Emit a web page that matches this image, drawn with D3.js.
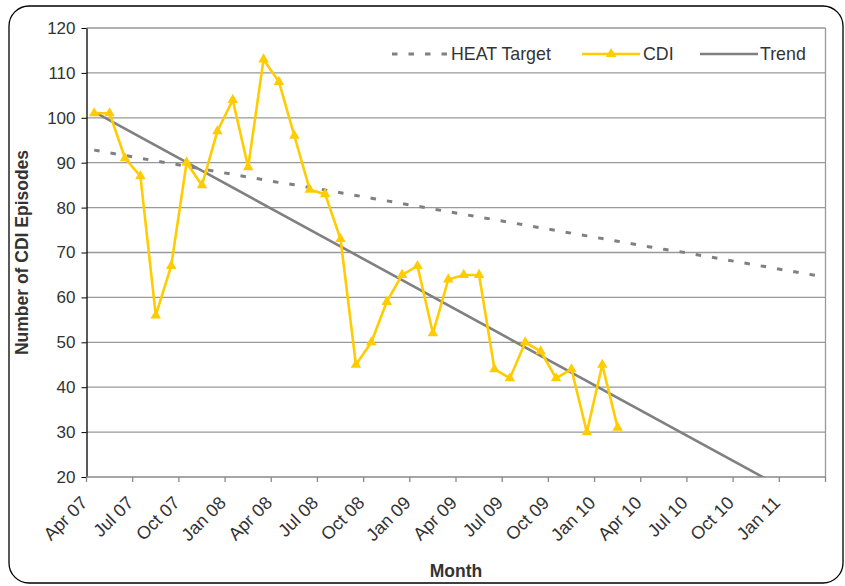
<!DOCTYPE html>
<html>
<head>
<meta charset="utf-8">
<script src="https://cdn.jsdelivr.net/npm/d3@7"></script>
<style>
  html, body { margin: 0; padding: 0; background: #fff; }
  svg { display: block; font-family: "Liberation Sans", Arial, sans-serif; }
</style>
</head>
<body>
<svg id="chart" width="845" height="586"></svg>
<script>
// ---- data ----
const months = [
  "Apr 07","May 07","Jun 07","Jul 07","Aug 07","Sep 07","Oct 07","Nov 07","Dec 07",
  "Jan 08","Feb 08","Mar 08","Apr 08","May 08","Jun 08","Jul 08","Aug 08","Sep 08","Oct 08","Nov 08","Dec 08",
  "Jan 09","Feb 09","Mar 09","Apr 09","May 09","Jun 09","Jul 09","Aug 09","Sep 09","Oct 09","Nov 09","Dec 09",
  "Jan 10","Feb 10","Mar 10","Apr 10","May 10","Jun 10","Jul 10","Aug 10","Sep 10","Oct 10","Nov 10","Dec 10",
  "Jan 11","Feb 11","Mar 11"
];
const tickLabels = ["Apr 07","Jul 07","Oct 07","Jan 08","Apr 08","Jul 08","Oct 08","Jan 09",
  "Apr 09","Jul 09","Oct 09","Jan 10","Apr 10","Jul 10","Oct 10","Jan 11"];
const cdi = [101,101,91,87,56,67,90,85,97,104,89,113,108,96,84,83,73,45,50,59,65,
  67,52,64,65,65,44,42,50,48,42,44,30,45,31];
const heatTarget = [92.8,92.2,91.6,91.0,90.4,89.8,89.2,88.6,88.0,87.4,86.8,86.2,85.6,85.1,84.5,83.9,
  83.3,82.7,82.1,81.5,80.9,80.3,79.7,79.1,78.5,77.9,77.3,76.7,76.1,75.5,74.9,74.3,73.7,73.1,72.5,71.9,
  71.3,70.7,70.2,69.6,69.0,68.4,67.8,67.2,66.6,66.0,65.4,64.8];
const trendMonths = ["Apr 07","Mar 11"];
const trendValues = [101.3, 13.3];
const yTicks = [20,30,40,50,60,70,80,90,100,110,120];
const legendItems = ["HEAT Target","CDI","Trend"];

// ---- layout ----
const svg = d3.select("#chart");
const L = 86.5, R = 825.5, T = 28, B = 477;
const x = d3.scaleBand().domain(months).range([L, R]).paddingInner(0).paddingOuter(0);
const cx = m => x(m) + x.bandwidth() / 2;
const y = d3.scaleLinear().domain([20, 120]).range([B, T]);

const gold = "#FFCC00", gray = "#808080", textCol = "#333333";

// outer rounded border
svg.append("rect").attr("x", 9).attr("y", 6).attr("width", 834).attr("height", 577)
  .attr("rx", 20).attr("ry", 20).attr("fill", "#fff").attr("stroke", "#000").attr("stroke-width", 1.3);

svg.append("clipPath").attr("id", "plotclip").append("rect")
  .attr("x", L).attr("y", T).attr("width", R - L).attr("height", B - T);

// gridlines
svg.append("g").selectAll("line").data(yTicks.filter(d => d > 20)).join("line")
  .attr("x1", L).attr("x2", R).attr("y1", d => y(d)).attr("y2", d => y(d))
  .attr("stroke", "#999").attr("stroke-width", 1.3);
// right plot border
svg.append("line").attr("x1", R).attr("x2", R).attr("y1", T).attr("y2", B)
  .attr("stroke", "#999").attr("stroke-width", 1.3);

// y axis
const yAxis = d3.axisLeft(y).tickValues(yTicks).tickSize(5).tickPadding(6).tickSizeOuter(0);
const gy = svg.append("g").attr("transform", `translate(${L},0)`).call(yAxis);
gy.select(".domain").attr("stroke", "#000").attr("stroke-width", 1.3);
gy.selectAll(".tick line").attr("stroke", "#000").attr("x2", -5).attr("x1", 0);
gy.selectAll(".tick text").attr("fill", textCol).attr("font-size", 17)
  .attr("font-family", "Liberation Sans, Arial, sans-serif");

// x axis (ticks at category boundaries every 3 months)
const xAxisG = svg.append("g");
xAxisG.append("line").attr("x1", L).attr("x2", R).attr("y1", B).attr("y2", B)
  .attr("stroke", "#888").attr("stroke-width", 1.5);
const tickPos = tickLabels.map(m => x(m)).concat([R]);
xAxisG.selectAll("line.tk").data(tickPos).join("line").attr("class", "tk")
  .attr("x1", d => d).attr("x2", d => d).attr("y1", B).attr("y2", B + 5)
  .attr("stroke", "#888").attr("stroke-width", 1.3);
xAxisG.selectAll("text").data(tickLabels).join("text")
  .attr("transform", d => `translate(${x(d) + 2},${B + 27}) rotate(-45)`)
  .attr("text-anchor", "end").attr("fill", textCol).attr("font-size", 18)
  .text(d => d);

// axis titles
svg.append("text").attr("transform", `translate(28,${(T + B) / 2}) rotate(-90)`)
  .attr("text-anchor", "middle").attr("font-weight", "bold").attr("font-size", 17.5)
  .attr("fill", textCol).text("Number of CDI Episodes");
svg.append("text").attr("x", 456).attr("y", 577).attr("text-anchor", "middle")
  .attr("font-weight", "bold").attr("font-size", 17.5).attr("fill", textCol).text("Month");

const plot = svg.append("g").attr("clip-path", "url(#plotclip)");

// HEAT target
plot.append("path").datum(heatTarget)
  .attr("d", d3.line().x((d, i) => cx(months[i])).y(d => y(d)))
  .attr("fill", "none").attr("stroke", gray).attr("stroke-width", 3)
  .attr("stroke-dasharray", "5.5,11");

// trend
plot.append("path").datum(trendValues)
  .attr("d", d3.line().x((d, i) => cx(trendMonths[i])).y(d => y(d)))
  .attr("fill", "none").attr("stroke", gray).attr("stroke-width", 2.6);

// CDI
plot.append("path").datum(cdi)
  .attr("d", d3.line().x((d, i) => cx(months[i])).y(d => y(d)))
  .attr("fill", "none").attr("stroke", gold).attr("stroke-width", 2.6).attr("stroke-linejoin", "miter");
const tri = d3.symbol().type(d3.symbolTriangle).size(48);
svg.append("g").selectAll("path").data(cdi).join("path")
  .attr("transform", (d, i) => `translate(${cx(months[i])},${y(d)})`)
  .attr("d", tri).attr("fill", gold);

// legend
const lg = svg.append("g").attr("font-size", 17.8).attr("fill", textCol);
const ly = 54;
lg.append("line").attr("x1", 392).attr("x2", 447).attr("y1", ly).attr("y2", ly)
  .attr("stroke", gray).attr("stroke-width", 3).attr("stroke-dasharray", "5.5,11");
lg.append("text").attr("x", 451).attr("y", ly + 6).text(legendItems[0]);
lg.append("line").attr("x1", 582).attr("x2", 640).attr("y1", ly).attr("y2", ly)
  .attr("stroke", gold).attr("stroke-width", 2.6);
lg.append("path").attr("transform", `translate(611,${ly})`).attr("d", tri).attr("fill", gold);
lg.append("text").attr("x", 643).attr("y", ly + 6).text(legendItems[1]);
lg.append("line").attr("x1", 700).attr("x2", 758).attr("y1", ly).attr("y2", ly)
  .attr("stroke", gray).attr("stroke-width", 2.6);
lg.append("text").attr("x", 760).attr("y", ly + 6).text(legendItems[2]);
</script>
</body>
</html>
